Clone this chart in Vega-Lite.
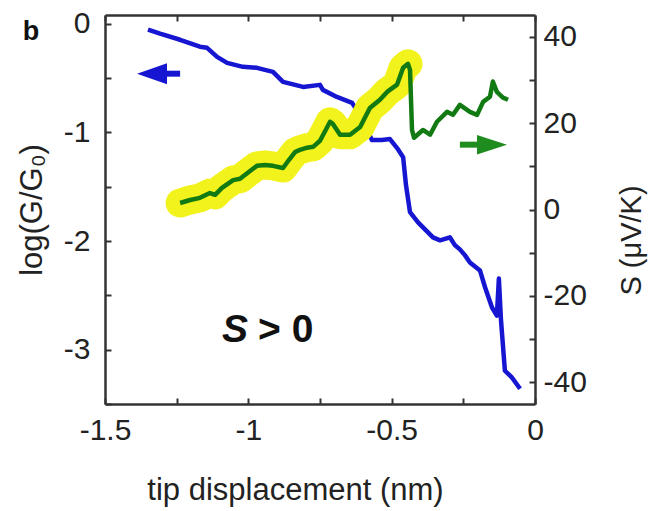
{
  "$schema": "https://vega.github.io/schema/vega-lite/v6.json",
  "width": 430,
  "height": 389,
  "autosize": {"type": "none"},
  "padding": {"left": 105, "top": 15, "right": 117, "bottom": 107},
  "background": "white",
  "config": {
    "view": {"stroke": null},
    "font": "Liberation Sans",
    "axis": {
      "grid": false,
      "domainColor": "#333333",
      "domainWidth": 2.5,
      "tickColor": "#333333",
      "tickWidth": 2,
      "tickSize": -6,
      "labelFont": "Liberation Sans",
      "labelFontSize": 30,
      "labelColor": "#222222",
      "labelOverlap": false,
      "labelFlush": false,
      "titleFont": "Liberation Sans",
      "titleFontSize": 31,
      "titleFontWeight": "normal",
      "titleColor": "#222222"
    }
  },
  "datasets": {
    "blue": [
      {"x": -1.350, "logG": -0.055}, {"x": -1.308, "logG": -0.092}, {"x": -1.238, "logG": -0.148},
      {"x": -1.169, "logG": -0.212}, {"x": -1.144, "logG": -0.222}, {"x": -1.109, "logG": -0.305},
      {"x": -1.074, "logG": -0.360}, {"x": -1.019, "logG": -0.397}, {"x": -0.970, "logG": -0.406},
      {"x": -0.914, "logG": -0.443}, {"x": -0.879, "logG": -0.535}, {"x": -0.865, "logG": -0.545},
      {"x": -0.809, "logG": -0.582}, {"x": -0.750, "logG": -0.563}, {"x": -0.740, "logG": -0.609},
      {"x": -0.691, "logG": -0.674}, {"x": -0.638, "logG": -0.729}, {"x": -0.604, "logG": -0.868},
      {"x": -0.569, "logG": -1.071}, {"x": -0.534, "logG": -1.071}, {"x": -0.506, "logG": -1.062},
      {"x": -0.481, "logG": -1.145}, {"x": -0.460, "logG": -1.228}, {"x": -0.450, "logG": -1.486},
      {"x": -0.436, "logG": -1.735}, {"x": -0.408, "logG": -1.828}, {"x": -0.356, "logG": -1.966},
      {"x": -0.331, "logG": -1.994}, {"x": -0.297, "logG": -1.966}, {"x": -0.279, "logG": -2.040},
      {"x": -0.262, "logG": -2.077}, {"x": -0.244, "logG": -2.132}, {"x": -0.227, "logG": -2.197},
      {"x": -0.192, "logG": -2.271}, {"x": -0.174, "logG": -2.428}, {"x": -0.150, "logG": -2.612},
      {"x": -0.133, "logG": -2.686}, {"x": -0.126, "logG": -2.345}, {"x": -0.119, "logG": -2.714},
      {"x": -0.115, "logG": -2.852}, {"x": -0.105, "logG": -3.194}, {"x": -0.080, "logG": -3.258},
      {"x": -0.052, "logG": -3.360}
    ],
    "green": [
      {"x": -1.238, "S": 1.5, "seg": "high"}, {"x": -1.203, "S": 2.2, "seg": "high"},
      {"x": -1.169, "S": 2.7, "seg": "high"}, {"x": -1.134, "S": 3.8, "seg": "high"},
      {"x": -1.116, "S": 3.4, "seg": "high"}, {"x": -1.092, "S": 5.0, "seg": "high"},
      {"x": -1.053, "S": 6.8, "seg": "high"}, {"x": -1.029, "S": 7.1, "seg": "high"},
      {"x": -0.994, "S": 8.9, "seg": "high"}, {"x": -0.970, "S": 10.1, "seg": "high"},
      {"x": -0.942, "S": 10.3, "seg": "high"}, {"x": -0.914, "S": 10.1, "seg": "high"},
      {"x": -0.879, "S": 9.6, "seg": "high"}, {"x": -0.858, "S": 11.5, "seg": "high"},
      {"x": -0.837, "S": 13.3, "seg": "high"}, {"x": -0.820, "S": 13.8, "seg": "high"},
      {"x": -0.795, "S": 14.3, "seg": "high"}, {"x": -0.774, "S": 14.5, "seg": "high"},
      {"x": -0.750, "S": 15.9, "seg": "high"}, {"x": -0.726, "S": 18.9, "seg": "high"},
      {"x": -0.715, "S": 20.3, "seg": "high"}, {"x": -0.705, "S": 19.8, "seg": "high"},
      {"x": -0.680, "S": 17.3, "seg": "high"}, {"x": -0.645, "S": 17.3, "seg": "high"},
      {"x": -0.610, "S": 19.1, "seg": "high"}, {"x": -0.576, "S": 23.5, "seg": "high"},
      {"x": -0.541, "S": 25.4, "seg": "high"}, {"x": -0.516, "S": 27.2, "seg": "high"},
      {"x": -0.481, "S": 28.9, "seg": "high"}, {"x": -0.460, "S": 32.8, "seg": "high"},
      {"x": -0.443, "S": 33.7, "seg": "high"},
      {"x": -0.436, "S": 32.3, "seg": "rest"}, {"x": -0.429, "S": 18.4, "seg": "rest"},
      {"x": -0.422, "S": 16.6, "seg": "rest"}, {"x": -0.391, "S": 18.4, "seg": "rest"},
      {"x": -0.366, "S": 17.3, "seg": "rest"}, {"x": -0.342, "S": 20.3, "seg": "rest"},
      {"x": -0.307, "S": 22.6, "seg": "rest"}, {"x": -0.286, "S": 21.9, "seg": "rest"},
      {"x": -0.262, "S": 24.2, "seg": "rest"}, {"x": -0.227, "S": 22.6, "seg": "rest"},
      {"x": -0.202, "S": 21.9, "seg": "rest"}, {"x": -0.181, "S": 24.9, "seg": "rest"},
      {"x": -0.157, "S": 26.1, "seg": "rest"}, {"x": -0.147, "S": 29.6, "seg": "rest"},
      {"x": -0.133, "S": 27.2, "seg": "rest"}, {"x": -0.112, "S": 25.9, "seg": "rest"},
      {"x": -0.094, "S": 25.4, "seg": "rest"}
    ]
  },
  "resolve": {"scale": {"y": "independent"}},
  "layer": [
    {
      "data": {"name": "blue"},
      "mark": {"type": "line", "color": "#1616d2", "strokeWidth": 4.5, "strokeJoin": "round"},
      "encoding": {
        "x": {
          "field": "x", "type": "quantitative",
          "scale": {"domain": [-1.5, 0], "nice": false, "zero": false},
          "axis": {
            "orient": "bottom",
            "values": [-1.5, -1.25, -1, -0.75, -0.5, -0.25, 0],
            "labelExpr": "datum.value*2 == round(datum.value*2) ? toString(datum.value) : ''",
            "title": "tip displacement (nm)",
            "labelPadding": 17,
            "titlePadding": 30,
            "titleX": 190
          }
        },
        "y": {
          "field": "logG", "type": "quantitative",
          "scale": {"domain": [-3.5, 0.08], "nice": false, "zero": false},
          "axis": {
            "orient": "left",
            "values": [-3.5, -3, -2.5, -2, -1.5, -1, -0.5, 0],
            "labelExpr": "datum.value == round(datum.value) ? toString(datum.value) : ''",
            "title": "log(G/G₀)",
            "labelPadding": 21,
            "titlePadding": 15
          }
        }
      }
    },
    {
      "data": {"values": [{"x1": -1.308, "x2": -1.238, "g": -0.46}]},
      "mark": {"type": "rule", "color": "#1616d2", "strokeWidth": 6},
      "encoding": {
        "x": {
          "field": "x1", "type": "quantitative",
          "axis": {
            "orient": "top",
            "values": [-1.5, -1.25, -1, -0.75, -0.5, -0.25, 0],
            "labels": false,
            "title": null
          }
        },
        "x2": {"field": "x2"},
        "y": {"field": "g", "type": "quantitative", "scale": {"domain": [-3.5, 0.08], "nice": false, "zero": false}, "axis": null}
      }
    },
    {
      "data": {"values": [{"x": -1.336, "g": -0.46}]},
      "mark": {"type": "point", "shape": "M -1 0 L 1 -0.7 L 1 0.7 Z", "filled": true, "size": 900, "opacity": 1, "color": "#1616d2"},
      "encoding": {
        "x": {"field": "x", "type": "quantitative", "axis": null},
        "y": {"field": "g", "type": "quantitative", "scale": {"domain": [-3.5, 0.08], "nice": false, "zero": false}, "axis": null}
      }
    },
    {
      "data": {"values": [{"x": -1.092, "g": -2.815, "t": "S"}]},
      "mark": {"type": "text", "font": "Liberation Sans", "fontSize": 39, "fontWeight": "bold", "fontStyle": "italic", "align": "left", "baseline": "middle", "color": "#111111"},
      "encoding": {
        "x": {"field": "x", "type": "quantitative", "axis": null},
        "y": {"field": "g", "type": "quantitative", "scale": {"domain": [-3.5, 0.08], "nice": false, "zero": false}, "axis": null},
        "text": {"field": "t"}
      }
    },
    {
      "data": {"values": [{"x": -0.966, "g": -2.815, "t": "> 0"}]},
      "mark": {"type": "text", "font": "Liberation Sans", "fontSize": 39, "fontWeight": "bold", "align": "left", "baseline": "middle", "color": "#111111"},
      "encoding": {
        "x": {"field": "x", "type": "quantitative", "axis": null},
        "y": {"field": "g", "type": "quantitative", "scale": {"domain": [-3.5, 0.08], "nice": false, "zero": false}, "axis": null},
        "text": {"field": "t"}
      }
    },
    {
      "data": {"values": [{"x": -1.758, "g": -0.074, "t": "b"}]},
      "mark": {"type": "text", "font": "Liberation Sans", "fontSize": 27, "fontWeight": "bold", "align": "center", "baseline": "middle", "color": "#111111"},
      "encoding": {
        "x": {"field": "x", "type": "quantitative", "axis": null},
        "y": {"field": "g", "type": "quantitative", "scale": {"domain": [-3.5, 0.08], "nice": false, "zero": false}, "axis": null},
        "text": {"field": "t"}
      }
    },
    {
      "data": {"name": "green"},
      "transform": [{"filter": "datum.seg == 'high'"}],
      "mark": {"type": "line", "color": "#f2f21c", "strokeWidth": 29, "strokeCap": "round", "strokeJoin": "round"},
      "encoding": {
        "x": {"field": "x", "type": "quantitative", "axis": null},
        "y": {
          "field": "S", "type": "quantitative",
          "scale": {"domain": [-45, 45], "nice": false, "zero": false},
          "axis": {
            "orient": "right",
            "values": [-40, -30, -20, -10, 0, 10, 20, 30, 40],
            "labelExpr": "datum.value % 20 == 0 ? toString(datum.value) : ''",
            "title": "S (μV/K)",
            "titleAngle": -90,
            "titleFontSize": 29,
            "labelPadding": 14,
            "titlePadding": 60,
            "titleY": 225
          }
        }
      }
    },
    {
      "data": {"name": "green"},
      "mark": {"type": "line", "color": "#127a12", "strokeWidth": 4.5, "strokeJoin": "round"},
      "encoding": {
        "x": {"field": "x", "type": "quantitative", "axis": null},
        "y": {"field": "S", "type": "quantitative", "scale": {"domain": [-45, 45], "nice": false, "zero": false}, "axis": null}
      }
    },
    {
      "data": {"values": [{"x1": -0.262, "x2": -0.174, "S": 15}]},
      "mark": {"type": "rule", "color": "#1e8c1e", "strokeWidth": 6},
      "encoding": {
        "x": {"field": "x1", "type": "quantitative", "axis": null},
        "x2": {"field": "x2"},
        "y": {"field": "S", "type": "quantitative", "scale": {"domain": [-45, 45], "nice": false, "zero": false}, "axis": null}
      }
    },
    {
      "data": {"values": [{"x": -0.150, "S": 15}]},
      "mark": {"type": "point", "shape": "M 1 0 L -1 -0.65 L -1 0.65 Z", "filled": true, "size": 900, "opacity": 1, "color": "#1e8c1e"},
      "encoding": {
        "x": {"field": "x", "type": "quantitative", "axis": null},
        "y": {"field": "S", "type": "quantitative", "scale": {"domain": [-45, 45], "nice": false, "zero": false}, "axis": null}
      }
    }
  ]
}
